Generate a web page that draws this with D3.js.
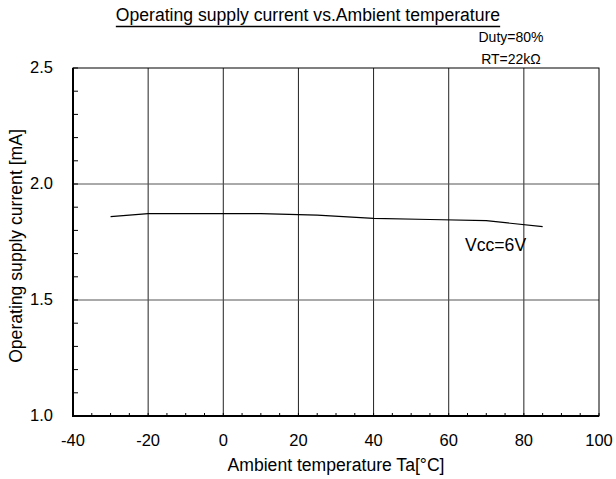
<!DOCTYPE html>
<meta charset="utf-8">
<style>
  body{ margin:0; background:#fff; }
  text{ font-family: "Liberation Sans", Arial, sans-serif; fill:#000; }
</style>
<svg width="616" height="479"></svg>
<script src="https://d3js.org/d3.v7.min.js"></script>
<script>
  var svg = d3.select("svg");

  // data
  var temps = [-30, -20, 0, 10, 25, 40, 55, 70, 85];
  var current = [1.859, 1.872, 1.872, 1.872, 1.866, 1.852, 1.847, 1.842, 1.816];
  var xTicks = [-40, -20, 0, 20, 40, 60, 80, 100];
  var yTicks = [1.0, 1.5, 2.0, 2.5];
  var seriesLabel = "Vcc=6V";
  var notes = ["Duty=80%", "RT=22k\u03a9"];

  var pL = 73, pR = 599, pT = 68, pB = 416;

  var x = d3.scaleLinear().domain([-40, 100]).range([pL, pR]);
  var y = d3.scaleLinear().domain([1.0, 2.5]).range([pB, pT]);

  // grid
  svg.append("g").selectAll("line")
    .data(xTicks.slice(1, -1))
    .enter().append("line")
    .attr("x1", d => x(d)).attr("x2", d => x(d))
    .attr("y1", pT).attr("y2", pB)
    .attr("stroke", "#222").attr("stroke-width", 1);

  svg.append("g").selectAll("line")
    .data(yTicks.slice(1, -1))
    .enter().append("line")
    .attr("x1", pL).attr("x2", pR)
    .attr("y1", d => y(d)).attr("y2", d => y(d))
    .attr("stroke", "#555").attr("stroke-width", 1);

  // minor ticks
  svg.append("g").selectAll("line")
    .data(d3.range(-40, 101, 5))
    .enter().append("line")
    .attr("x1", d => x(d)).attr("x2", d => x(d))
    .attr("y1", pB).attr("y2", pB - 3)
    .attr("stroke", "#000");

  svg.append("g").selectAll("line")
    .data(d3.range(10, 26).map(d => d / 10))
    .enter().append("line")
    .attr("x1", pL).attr("x2", pL + 5)
    .attr("y1", d => y(d)).attr("y2", d => y(d))
    .attr("stroke", "#000");

  // frame
  svg.append("rect")
    .attr("x", pL).attr("y", pT)
    .attr("width", pR - pL).attr("height", pB - pT)
    .attr("fill", "none").attr("stroke", "#000").attr("stroke-width", 1);
  svg.append("path")
    .attr("d", "M" + pL + "," + pT + "V" + pB + "H" + pR)
    .attr("fill", "none").attr("stroke", "#000").attr("stroke-width", 2);

  // tick labels
  svg.append("g").selectAll("text")
    .data(xTicks)
    .enter().append("text")
    .attr("x", d => x(d)).attr("y", 446)
    .attr("text-anchor", "middle")
    .style("font-size", "16.5px")
    .text(d => d);

  svg.append("g").selectAll("text")
    .data(yTicks)
    .enter().append("text")
    .attr("x", 53).attr("y", d => y(d) + 5)
    .attr("text-anchor", "end")
    .style("font-size", "16.5px")
    .text(d => d.toFixed(1));

  // series
  var line = d3.line()
    .x((d, i) => x(temps[i]))
    .y(d => y(d));

  svg.append("path")
    .datum(current)
    .attr("d", line)
    .attr("fill", "none")
    .attr("stroke", "#000")
    .attr("stroke-width", 1.2);

  svg.append("text")
    .attr("x", 465).attr("y", 251)
    .style("font-size", "17.6px")
    .text(seriesLabel);

  // titles
  var title = svg.append("text")
    .attr("x", 308).attr("y", 21)
    .attr("text-anchor", "middle")
    .style("font-size", "17.6px")
    .text("Operating supply current vs.Ambient temperature");
  var tb = title.node().getBBox();
  svg.append("line")
    .attr("x1", tb.x).attr("x2", tb.x + tb.width)
    .attr("y1", 26.5).attr("y2", 26.5)
    .attr("stroke", "#000").attr("stroke-width", 1.5);

  svg.selectAll(".note")
    .data(notes)
    .enter().append("text")
    .attr("class", "note")
    .attr("x", 511).attr("y", (d, i) => 42 + i * 22)
    .attr("text-anchor", "middle")
    .style("font-size", "14px")
    .text(d => d);

  svg.append("text")
    .attr("x", 336).attr("y", 471)
    .attr("text-anchor", "middle")
    .style("font-size", "17.6px")
    .text("Ambient temperature Ta[\u00b0C]");

  svg.append("text")
    .attr("transform", "translate(22,246) rotate(-90)")
    .attr("text-anchor", "middle")
    .style("font-size", "17.6px")
    .text("Operating supply current [mA]");
</script>
